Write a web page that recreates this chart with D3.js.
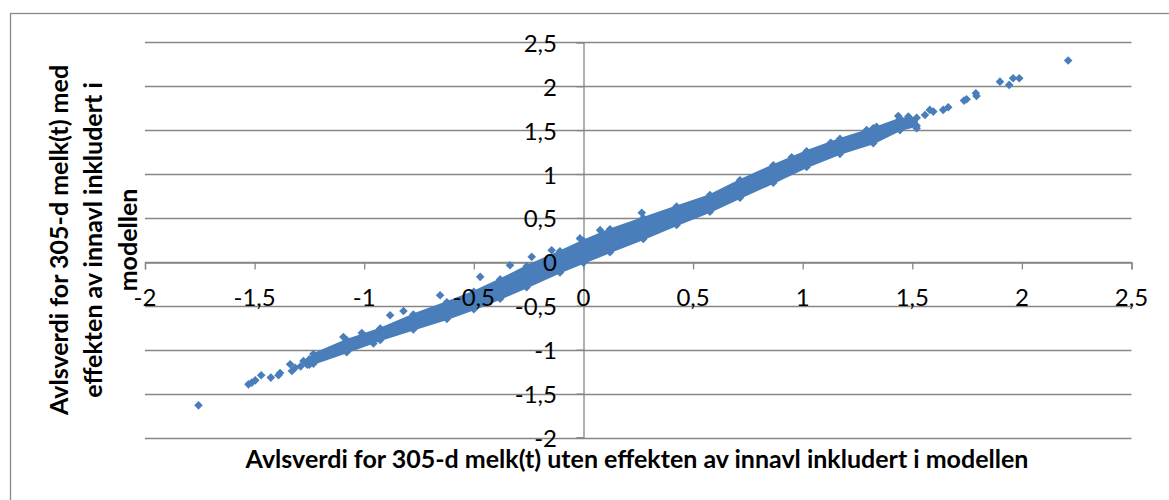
<!DOCTYPE html>
<html>
<head>
<meta charset="utf-8">
<script src="https://cdn.jsdelivr.net/npm/d3@7"></script>
<style>
	body { margin: 0; background: #fff; }
	svg { display: block; }
	text { font-family: Lato, "Open Sans", sans-serif; fill: #000; }
</style>
</head>
<body>
<div id="chart"></div>
<script>
// tick values for both axes (Excel uses comma decimals)
var xTicks = [-2, -1.5, -1, -0.5, 0, 0.5, 1, 1.5, 2, 2.5];
var yTicks = [-2, -1.5, -1, -0.5, 0, 0.5, 1, 1.5, 2, 2.5];

// dense part of the cloud: read as lower / upper edge at some x values
var bandX    = [-1.25, -1.232, -1.08, -0.927, -0.776, -0.623, -0.50, -0.38, -0.259, -0.107, 0, 0.121, 0.273, 0.425, 0.577, 0.714, 0.866, 1.018, 1.17, 1.322, 1.444, 1.52];
var bandLow  = [-1.17, -1.16, -1.03, -0.89, -0.77, -0.65, -0.54, -0.42, -0.29, -0.12, -0.01, 0.11, 0.26, 0.42, 0.57, 0.73, 0.90, 1.08, 1.23, 1.35, 1.50, 1.55];
var bandHigh = [-1.11, -1.05, -0.89, -0.76, -0.60, -0.46, -0.34, -0.20, -0.05, 0.12, 0.24, 0.37, 0.50, 0.63, 0.76, 0.93, 1.10, 1.26, 1.40, 1.52, 1.63, 1.64];

// single points that stand out from the band
var pointsX = [-1.756, -1.528, -1.513, -1.497, -1.470, -1.426, -1.391, -1.384, -1.338, -1.330, -1.315, -1.277, -1.26, -1.29,
	-1.095, -1.011, -0.958, -0.882, -0.821, -0.654, -0.471, -0.335, -0.236, -0.145, -0.016, 0.076, 0.266,
	0.950, 1.128, 1.292, 1.337, 1.436, 1.482, 1.520, 1.558, 1.580, 1.596, 1.641, 1.664,
	1.736, 1.748, 1.790, 1.793, 1.900, 1.942, 1.960, 1.988, 2.211];
var pointsY = [-1.634, -1.395, -1.375, -1.349, -1.292, -1.318, -1.292, -1.266, -1.166, -1.243, -1.205, -1.129, -1.17, -1.19,
	-0.855, -0.810, -0.930, -0.608, -0.559, -0.380, -0.171, -0.038, 0.057, 0.133, 0.267, 0.361, 0.559,
	1.190, 1.357, 1.502, 1.539, 1.661, 1.654, 1.521, 1.673, 1.730, 1.711, 1.730, 1.760,
	1.836, 1.852, 1.920, 1.889, 2.052, 2.015, 2.091, 2.091, 2.292];

var xTitle = "Avlsverdi for 305-d melk(t) uten effekten av innavl inkludert i modellen";
var yTitle = ["Avlsverdi for 305-d melk(t) med", "effekten av innavl inkludert i", "modellen"];

var width = 1169, height = 500;
var blue = "#4a7ebb", grid = "#868686";

var fmt = function(v) { return String(v).replace(".", ","); };

var svg = d3.select("#chart").append("svg")
	.attr("width", width)
	.attr("height", height);

// outer chart border (right and bottom run off the picture)
svg.append("rect")
	.attr("x", 10.5).attr("y", 13.5)
	.attr("width", 1200).attr("height", 600)
	.attr("fill", "none").attr("stroke", "#8a8a8a").attr("stroke-width", 1.3);

var x = d3.scaleLinear().domain([-2, 2.5]).range([145, 1131.5]);
var y = d3.scaleLinear().domain([-2, 2.5]).range([437.5, 42.3]);

// horizontal gridlines
svg.append("g").selectAll("line").data(yTicks).enter().append("line")
	.attr("x1", x(-2)).attr("x2", x(2.5))
	.attr("y1", function(d) { return Math.round(y(d)) + 0.5; })
	.attr("y2", function(d) { return Math.round(y(d)) + 0.5; })
	.attr("stroke", grid).attr("stroke-width", 1.3);

// axes crossing at 0
var x0 = Math.round(x(0)) + 0.5, y0 = Math.round(y(0)) + 0.5;

var xAxis = svg.append("g").attr("transform", "translate(0," + y0 + ")")
	.call(d3.axisBottom(x).tickValues(xTicks).tickSize(7).tickPadding(0).tickFormat(function() { return ""; }));
var yAxis = svg.append("g").attr("transform", "translate(" + x0 + ",0)")
	.call(d3.axisLeft(y).tickValues(yTicks).tickSize(7).tickPadding(0).tickFormat(function() { return ""; }));
[xAxis, yAxis].forEach(function(a) {
	a.select(".domain").attr("stroke", grid).attr("stroke-width", 1.3);
	a.selectAll(".tick line").attr("stroke", grid).attr("stroke-width", 1.3);
});

// data: dense band + single markers
var band = bandX.map(function(v, i) { return {x: v, lo: bandLow[i], hi: bandHigh[i]}; });
var area = d3.area()
	.x(function(d) { return x(d.x); })
	.y0(function(d) { return y(d.lo); })
	.y1(function(d) { return y(d.hi); })
	.curve(d3.curveLinear);
svg.append("path").datum(band)
	.attr("d", area)
	.attr("fill", blue).attr("stroke", blue).attr("stroke-width", 2).attr("stroke-linejoin", "round");

var r = 4.3;
var diamond = "M0," + (-r) + "L" + r + ",0L0," + r + "L" + (-r) + ",0Z";

// markers on the band edges give the ragged outline of the cloud
var edges = svg.append("g");
edges.selectAll("path.lo").data(band).enter().append("path").attr("class", "lo")
	.attr("d", diamond)
	.attr("transform", function(d) { return "translate(" + x(d.x) + "," + y(d.lo) + ")"; })
	.attr("fill", blue);
edges.selectAll("path.hi").data(band).enter().append("path").attr("class", "hi")
	.attr("d", diamond)
	.attr("transform", function(d) { return "translate(" + x(d.x) + "," + y(d.hi) + ")"; })
	.attr("fill", blue);

svg.append("g").selectAll("path").data(pointsX).enter().append("path")
	.attr("d", diamond)
	.attr("transform", function(d, i) { return "translate(" + x(d) + "," + y(pointsY[i]) + ")"; })
	.attr("fill", blue);

// tick labels, drawn over the data like Excel does
svg.append("g").selectAll("text").data(xTicks).enter().append("text")
	.attr("x", function(d) { return x(d); })
	.attr("y", 296)
	.attr("text-anchor", "middle")
	.attr("dominant-baseline", "central")
	.style("font-size", "24px")
	.text(fmt);

svg.append("g").selectAll("text").data(yTicks).enter().append("text")
	.attr("x", 557)
	.attr("y", function(d) { return y(d); })
	.attr("text-anchor", "end")
	.attr("dominant-baseline", "central")
	.style("font-size", "24px")
	.text(fmt);

// axis titles
svg.append("text")
	.attr("x", 637).attr("y", 468)
	.attr("text-anchor", "middle")
	.style("font-size", "25px").style("font-weight", "bold")
	.text(xTitle);

var lineX = [58, 92, 127];
yTitle.forEach(function(t, i) {
	svg.append("text")
		.attr("transform", "translate(" + lineX[i] + ",240) rotate(-90)")
		.attr("text-anchor", "middle")
		.attr("dominant-baseline", "central")
		.style("font-size", "25px").style("font-weight", "bold")
		.text(t);
});
</script>
</body>
</html>
